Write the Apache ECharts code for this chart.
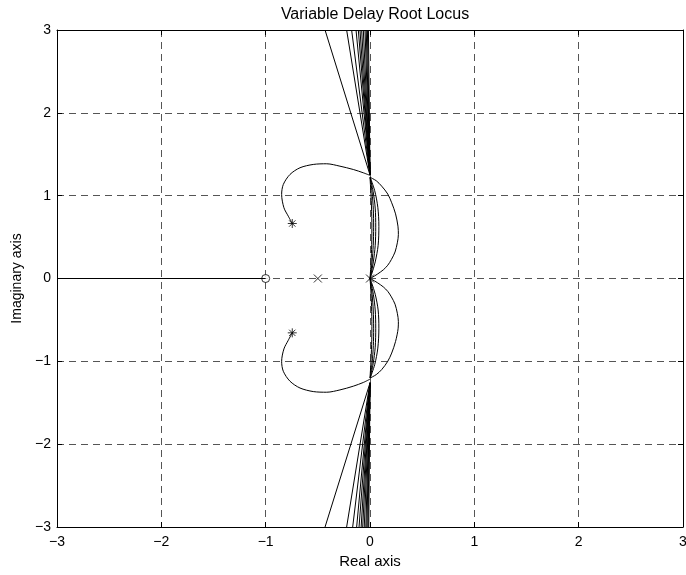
<!DOCTYPE html>
<html>
<head>
<meta charset="utf-8">
<script src="https://cdn.jsdelivr.net/npm/echarts@6/dist/echarts.min.js"></script>
<style>
  html, body { margin: 0; padding: 0; background: #fff; }
  #chart { width: 686px; height: 575px; }
</style>
</head>
<body>
<div id="chart"></div>
<script>
// branch on the real axis, left of the zero
const realBranch = [[-3, 0], [-1, 0]];

// arcs leaving the starred poles
const upperArc = [
  [-0.745, 0.664], [-0.783, 0.752], [-0.825, 0.854], [-0.847, 1.015], [-0.831, 1.135],
  [-0.767, 1.256], [-0.671, 1.337], [-0.544, 1.377], [-0.415, 1.385], [-0.288, 1.356],
  [-0.16, 1.316], [-0.064, 1.276], [0, 1.245]
];
const lowerArc = [
  [-0.745, -0.656], [-0.783, -0.745], [-0.825, -0.85], [-0.847, -1.0], [-0.831, -1.12],
  [-0.767, -1.24], [-0.671, -1.322], [-0.544, -1.365], [-0.415, -1.373], [-0.288, -1.345],
  [-0.16, -1.3], [-0.064, -1.255], [0, -1.215]
];

// lobes between the origin and +-1.22j
const upperLobes = [
  [[0.003, 1.22], [0.06, 1.18], [0.112, 1.115], [0.17, 1.02], [0.208, 0.914], [0.245, 0.78],
   [0.268, 0.632], [0.272, 0.53], [0.262, 0.431], [0.24, 0.32], [0.205, 0.229], [0.17, 0.16],
   [0.128, 0.105], [0.07, 0.052], [0.016, 0.01], [0, 0]],
  [[0.002, 1.22], [0.045, 1.06], [0.075, 0.86], [0.085, 0.63], [0.078, 0.4], [0.05, 0.2], [0.015, 0.05], [0, 0]],
  [[0.002, 1.22], [0.03, 1.05], [0.05, 0.85], [0.055, 0.62], [0.05, 0.4], [0.032, 0.2], [0.01, 0.05], [0, 0]],
  [[0.001, 1.22], [0.02, 1.04], [0.032, 0.83], [0.035, 0.62], [0.031, 0.4], [0.02, 0.2], [0.006, 0.05], [0, 0]],
  [[0, 1.22], [0.01, 1.0], [0.017, 0.75], [0.018, 0.6], [0.015, 0.35], [0.008, 0.15], [0, 0]]
];
const lowerLobes = [
  [[0.003, -1.2], [0.06, -1.16], [0.112, -1.1], [0.17, -1.0], [0.208, -0.9], [0.245, -0.76],
   [0.27, -0.6], [0.272, -0.52], [0.262, -0.42], [0.24, -0.31], [0.205, -0.222], [0.17, -0.155],
   [0.128, -0.102], [0.07, -0.05], [0.016, -0.01], [0, 0]],
  [[0.002, -1.2], [0.045, -1.04], [0.075, -0.84], [0.085, -0.6], [0.078, -0.38], [0.05, -0.19], [0.015, -0.05], [0, 0]],
  [[0.002, -1.2], [0.03, -1.03], [0.05, -0.83], [0.055, -0.6], [0.05, -0.38], [0.032, -0.19], [0.01, -0.05], [0, 0]],
  [[0.001, -1.2], [0.02, -1.02], [0.032, -0.81], [0.035, -0.6], [0.031, -0.38], [0.02, -0.19], [0.006, -0.05], [0, 0]],
  [[0, -1.2], [0.01, -0.98], [0.017, -0.74], [0.018, -0.58], [0.015, -0.34], [0.008, -0.14], [0, 0]]
];

// near-vertical branches running off to +-infinity
const upperFanStart = [0, 1.25];
const upperFanEndX = [-0.431, -0.224, -0.176, -0.134, -0.112, -0.096, -0.08, -0.064, -0.048, -0.036, -0.025, -0.015];
const lowerFanStart = [0, -1.26];
const lowerFanEndX = [-0.431, -0.224, -0.166, -0.128, -0.105, -0.085, -0.07, -0.055, -0.04, -0.03, -0.02, -0.012];

// poles and zeros
const zeros = [[-1, 0]];
const poles = [[-0.5, 0], [0, 0]];
const delayPoles = [[-0.745, 0.664], [-0.745, -0.656]];

const ticks = [-3, -2, -1, 0, 1, 2, 3];

const font = "'Liberation Sans', Arial, Helvetica, sans-serif";
const fmt = v => String(v).replace('-', '\u2212');

function lineSeries(data, smooth) {
  return {
    type: 'line', data: data, smooth: smooth ? 0.3 : false, showSymbol: false,
    silent: true, animation: false, clip: true,
    lineStyle: { color: '#000', width: 1 }
  };
}

const series = [];
series.push(lineSeries(realBranch, false));
series.push(lineSeries(upperArc, true));
series.push(lineSeries(lowerArc, true));
upperLobes.forEach(l => series.push(lineSeries(l, true)));
lowerLobes.forEach(l => series.push(lineSeries(l, true)));
upperFanEndX.forEach(x => series.push(lineSeries([upperFanStart, [x, 3]], false)));
lowerFanEndX.forEach(x => series.push(lineSeries([lowerFanStart, [x, -3]], false)));

const markerStyle = { color: '#000', borderColor: '#000', borderWidth: 1 };
series.push({
  type: 'scatter', data: zeros, symbol: 'circle', symbolSize: 8, silent: true, animation: false,
  itemStyle: { color: '#fff', borderColor: '#000', borderWidth: 1 }
});
series.push({
  type: 'scatter', data: poles, symbol: 'path://M0 0 L10 10 M10 0 L0 10', symbolSize: 8,
  silent: true, animation: false, itemStyle: markerStyle
});
series.push({
  type: 'scatter', data: delayPoles,
  symbol: 'path://M5 0 L5 10 M0 5 L10 5 M1.5 1.5 L8.5 8.5 M8.5 1.5 L1.5 8.5', symbolSize: 9,
  silent: true, animation: false, itemStyle: markerStyle
});

const gridLine = { show: true, lineStyle: { color: '#555', width: 1, type: [7, 5] } };
const axisLine = { show: true, onZero: false, lineStyle: { color: '#000', width: 1 } };
const axisTick = { show: true, inside: true, length: 5, lineStyle: { color: '#000' } };
const label = { color: '#000', fontSize: 14, fontFamily: font, formatter: fmt };

const chart = echarts.init(document.getElementById('chart'), null, { renderer: 'canvas' });
chart.setOption({
  backgroundColor: '#fff',
  animation: false,
  title: {
    text: 'Variable Delay Root Locus', left: 370, top: 2, textAlign: 'center',
    textStyle: { fontSize: 16, fontWeight: 'normal', color: '#000', fontFamily: font }
  },
  grid: { left: 57, right: 3, top: 30, bottom: 48, outerBoundsMode: 'none', containLabel: false },
  xAxis: [
    {
      type: 'value', min: ticks[0], max: ticks[ticks.length - 1], interval: 1, position: 'bottom',
      name: 'Real axis', nameLocation: 'middle', nameGap: 25,
      nameTextStyle: { color: '#000', fontSize: 15, fontFamily: font },
      axisLine: axisLine, axisTick: axisTick, axisLabel: Object.assign({ margin: 8 }, label),
      splitLine: gridLine
    },
    {
      type: 'value', min: ticks[0], max: ticks[ticks.length - 1], interval: 1, position: 'top',
      axisLine: axisLine, axisTick: axisTick, axisLabel: { show: false }, splitLine: { show: false }
    }
  ],
  yAxis: [
    {
      type: 'value', min: ticks[0], max: ticks[ticks.length - 1], interval: 1, position: 'left',
      name: 'Imaginary axis', nameLocation: 'middle', nameGap: 28,
      nameTextStyle: { color: '#000', fontSize: 14, fontFamily: font },
      axisLine: axisLine, axisTick: axisTick, axisLabel: Object.assign({ margin: 6 }, label),
      splitLine: gridLine
    },
    {
      type: 'value', min: ticks[0], max: ticks[ticks.length - 1], interval: 1, position: 'right',
      axisLine: axisLine, axisTick: axisTick, axisLabel: { show: false }, splitLine: { show: false }
    }
  ],
  series: series
});
</script>
</body>
</html>
